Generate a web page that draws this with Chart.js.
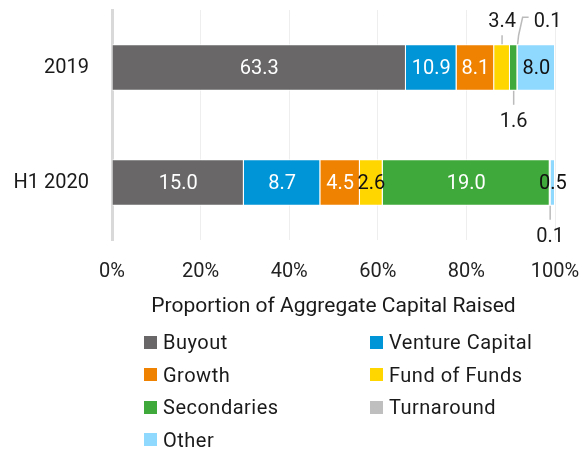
<!DOCTYPE html>
<html lang="en">
<head>
  <meta charset="UTF-8">
  <title>Proportion of Aggregate Capital Raised</title>
  <style>
    body {
      margin: 0;
      background: #fff;
      font-family: Roboto, Arial, sans-serif;
      color: #1a1a1a;
    }
    .wrap {
      position: relative;
      width: 587px;
      height: 454px;
    }
    #legend {
      position: absolute;
      left: 144px;
      top: 330px;
      width: 440px;
      display: grid;
      grid-template-columns: 226px 214px;
      row-gap: 8px;
      font-size: 20px;
      letter-spacing: 0.5px;
    }
    #legend .item {
      display: flex;
      align-items: center;
      height: 24.5px;
    }
    #legend .box {
      width: 13px;
      height: 13px;
      margin-right: 6px;
    }
  </style>
</head>
<body>
  <div class="wrap">
    <canvas id="chart" width="587" height="454"></canvas>
    <div id="legend"></div>
  </div>

  <script src="https://cdn.jsdelivr.net/npm/chart.js"></script>
  <script>
    // Capital raised ($bn)
    const periods = ['2019', 'H1 2020'];
    const strategies = ['Buyout', 'Venture Capital', 'Growth', 'Fund of Funds', 'Secondaries', 'Turnaround', 'Other'];
    const buyout = [63.3, 15.0];
    const ventureCapital = [10.9, 8.7];
    const growth = [8.1, 4.5];
    const fundOfFunds = [3.4, 2.6];
    const secondaries = [1.6, 19.0];
    const turnaround = [0.1, 0.1];
    const other = [8.0, 0.5];
    const xTicks = ['0%', '20%', '40%', '60%', '80%', '100%'];

    const colors = ['#696767', '#0095d6', '#ef8200', '#ffd600', '#3fa93b', '#bfbfbf', '#8fd9ff'];
    const labelColors = ['#fff', '#fff', '#fff', '#111', '#fff', '#111', '#111'];

    // where a value label goes when it doesn't fit in its segment: [dataset][period]
    const placement = {
      '3,0': 'above',
      '5,0': 'aboveRight',
      '4,0': 'below',
      '5,1': 'below'
    };

    const series = [buyout, ventureCapital, growth, fundOfFunds, secondaries, turnaround, other];
    const totals = periods.map((p, i) => series.reduce((a, s) => a + s[i], 0));

    const FONT = 'Roboto, Arial, sans-serif';

    const valueLabels = {
      id: 'valueLabels',
      afterDatasetsDraw(chart) {
        const ctx = chart.ctx;
        ctx.save();
        ctx.font = '20px ' + FONT;
        ctx.textAlign = 'center';
        ctx.textBaseline = 'middle';
        ctx.strokeStyle = '#bbbbbb';
        ctx.lineWidth = 1.5;
        chart.data.datasets.forEach((ds, di) => {
          const meta = chart.getDatasetMeta(di);
          meta.data.forEach((bar, i) => {
            const p = bar.getProps(['x', 'y', 'base', 'height'], true);
            const cx = (p.x + p.base) / 2;
            const top = p.y - p.height / 2;
            const bottom = p.y + p.height / 2;
            const text = series[di][i].toFixed(1);
            const where = placement[di + ',' + i] || 'center';
            if (where === 'center') {
              ctx.fillStyle = labelColors[di];
              ctx.fillText(text, cx, p.y + 1);
            } else if (where === 'above') {
              ctx.beginPath();
              ctx.moveTo(cx, top);
              ctx.lineTo(cx, top - 9);
              ctx.stroke();
              ctx.fillStyle = '#1a1a1a';
              ctx.fillText(text, cx, top - 22);
            } else if (where === 'aboveRight') {
              ctx.beginPath();
              ctx.moveTo(cx, top);
              ctx.lineTo(cx + 1, top - 9);
              ctx.lineTo(cx + 5, top - 27);
              ctx.lineTo(cx + 11, top - 27);
              ctx.stroke();
              ctx.fillStyle = '#1a1a1a';
              ctx.fillText(text, cx + 30, top - 22);
            } else if (where === 'below') {
              ctx.beginPath();
              ctx.moveTo(cx, bottom);
              ctx.lineTo(cx, bottom + 14);
              ctx.stroke();
              ctx.fillStyle = '#1a1a1a';
              ctx.fillText(text, cx, bottom + 31);
            }
          });
        });
        ctx.restore();
      }
    };

    new Chart(document.getElementById('chart'), {
      type: 'bar',
      data: {
        labels: periods,
        datasets: strategies.map((name, k) => ({
          label: name,
          data: series[k].map((v, i) => v / totals[i] * 100),
          backgroundColor: colors[k],
          borderColor: '#fff',
          borderWidth: 1,
          categoryPercentage: 1,
          barPercentage: 0.405
        }))
      },
      options: {
        indexAxis: 'y',
        responsive: false,
        animation: false,
        layout: { padding: { top: 10, right: 32, left: 0, bottom: 124 } },
        plugins: {
          legend: { display: false },
          tooltip: { enabled: false }
        },
        scales: {
          x: {
            stacked: true,
            min: 0,
            max: 100,
            afterFit(scale) {
              scale.height = 90;
              scale.paddingLeft = 0;
              scale.paddingRight = 0;
            },
            afterBuildTicks(scale) {
              scale.ticks = xTicks.map((t, i) => ({ value: i * 20 }));
            },
            ticks: {
              padding: 20,
              color: '#222',
              font: { family: FONT, size: 20 },
              callback: (v, i) => xTicks[i]
            },
            grid: { color: '#eeeeee', drawTicks: false },
            border: { display: false },
            title: {
              display: true,
              text: 'Proportion of Aggregate Capital Raised',
              color: '#1a1a1a',
              font: { family: FONT, size: 21 },
              padding: { top: 0, bottom: 11 }
            }
          },
          y: {
            stacked: true,
            afterFit(scale) {
              scale.width = 112;
              scale.paddingTop = 0;
              scale.paddingBottom = 0;
            },
            ticks: {
              padding: 23,
              color: '#1a1a1a',
              font: { family: FONT, size: 20 }
            },
            grid: { display: false, drawTicks: false },
            border: { color: '#d9d9d9', width: 3 }
          }
        }
      },
      plugins: [valueLabels]
    });

    // two-column legend
    const legend = document.getElementById('legend');
    strategies.forEach((name, k) => {
      const item = document.createElement('div');
      item.className = 'item';
      item.innerHTML = '<span class="box" style="background:' + colors[k] + '"></span>' + name;
      legend.appendChild(item);
    });
  </script>
</body>
</html>
